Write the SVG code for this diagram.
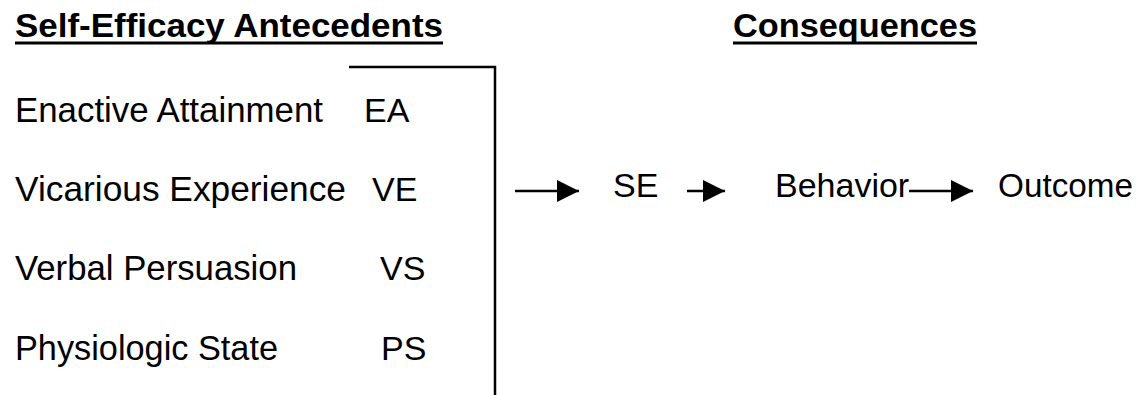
<svg xmlns="http://www.w3.org/2000/svg" width="1141" height="395" viewBox="0 0 1141 395">
  <style>
    text { font-family: "Liberation Sans", Arial, sans-serif; font-size: 34px; fill: #000; }
    .head { font-weight: bold; }
    .item { font-size: 35px; }
    .rule { stroke: #000; stroke-width: 3; }
    .frame { stroke: #000; stroke-width: 2.5; fill: none; }
    .link { stroke: #000; stroke-width: 2.5; fill: none; marker-end: url(#tri); }
  </style>
  <defs>
    <marker id="tri" viewBox="0 0 22 22" refX="22" refY="11" markerWidth="22" markerHeight="22" markerUnits="userSpaceOnUse" orient="auto">
      <path d="M0,0 L22,11 L0,22 Z" fill="#000"/>
    </marker>
  </defs>

  <!-- column headings -->
  <g id="heading-antecedents">
    <text class="head" x="15" y="37" textLength="428" lengthAdjust="spacingAndGlyphs">Self-Efficacy Antecedents</text>
    <line class="rule" x1="15" y1="43" x2="443" y2="43"/>
  </g>
  <g id="heading-consequences">
    <text class="head" x="733" y="37" textLength="244" lengthAdjust="spacingAndGlyphs">Consequences</text>
    <line class="rule" x1="733" y1="43" x2="977" y2="43"/>
  </g>

  <!-- antecedent list -->
  <g id="ea">
    <text class="item" x="15" y="122" textLength="308" lengthAdjust="spacingAndGlyphs">Enactive Attainment</text>
    <text x="364" y="122">EA</text>
  </g>
  <g id="ve">
    <text class="item" x="15" y="201" textLength="331" lengthAdjust="spacingAndGlyphs">Vicarious Experience</text>
    <text x="372" y="201">VE</text>
  </g>
  <g id="vs">
    <text class="item" x="15" y="280" textLength="282" lengthAdjust="spacingAndGlyphs">Verbal Persuasion</text>
    <text x="380" y="280">VS</text>
  </g>
  <g id="ps">
    <text class="item" x="15" y="360" textLength="263" lengthAdjust="spacingAndGlyphs">Physiologic State</text>
    <text x="381" y="360">PS</text>
  </g>

  <!-- bracket grouping the antecedents -->
  <g id="bracket">
    <polyline class="frame" points="349,67 495,67 495,395"/>
  </g>

  <!-- consequence chain -->
  <g id="se"><text x="613" y="197">SE</text></g>
  <g id="behavior"><text x="775" y="197">Behavior</text></g>
  <g id="outcome"><text x="998" y="197" textLength="135" lengthAdjust="spacingAndGlyphs">Outcome</text></g>

  <g id="connectors">
    <line class="link" x1="515" y1="191" x2="579" y2="191"/>
    <line class="link" x1="687" y1="191" x2="725" y2="191"/>
    <line class="link" x1="909" y1="191" x2="973" y2="191"/>
  </g>
</svg>
